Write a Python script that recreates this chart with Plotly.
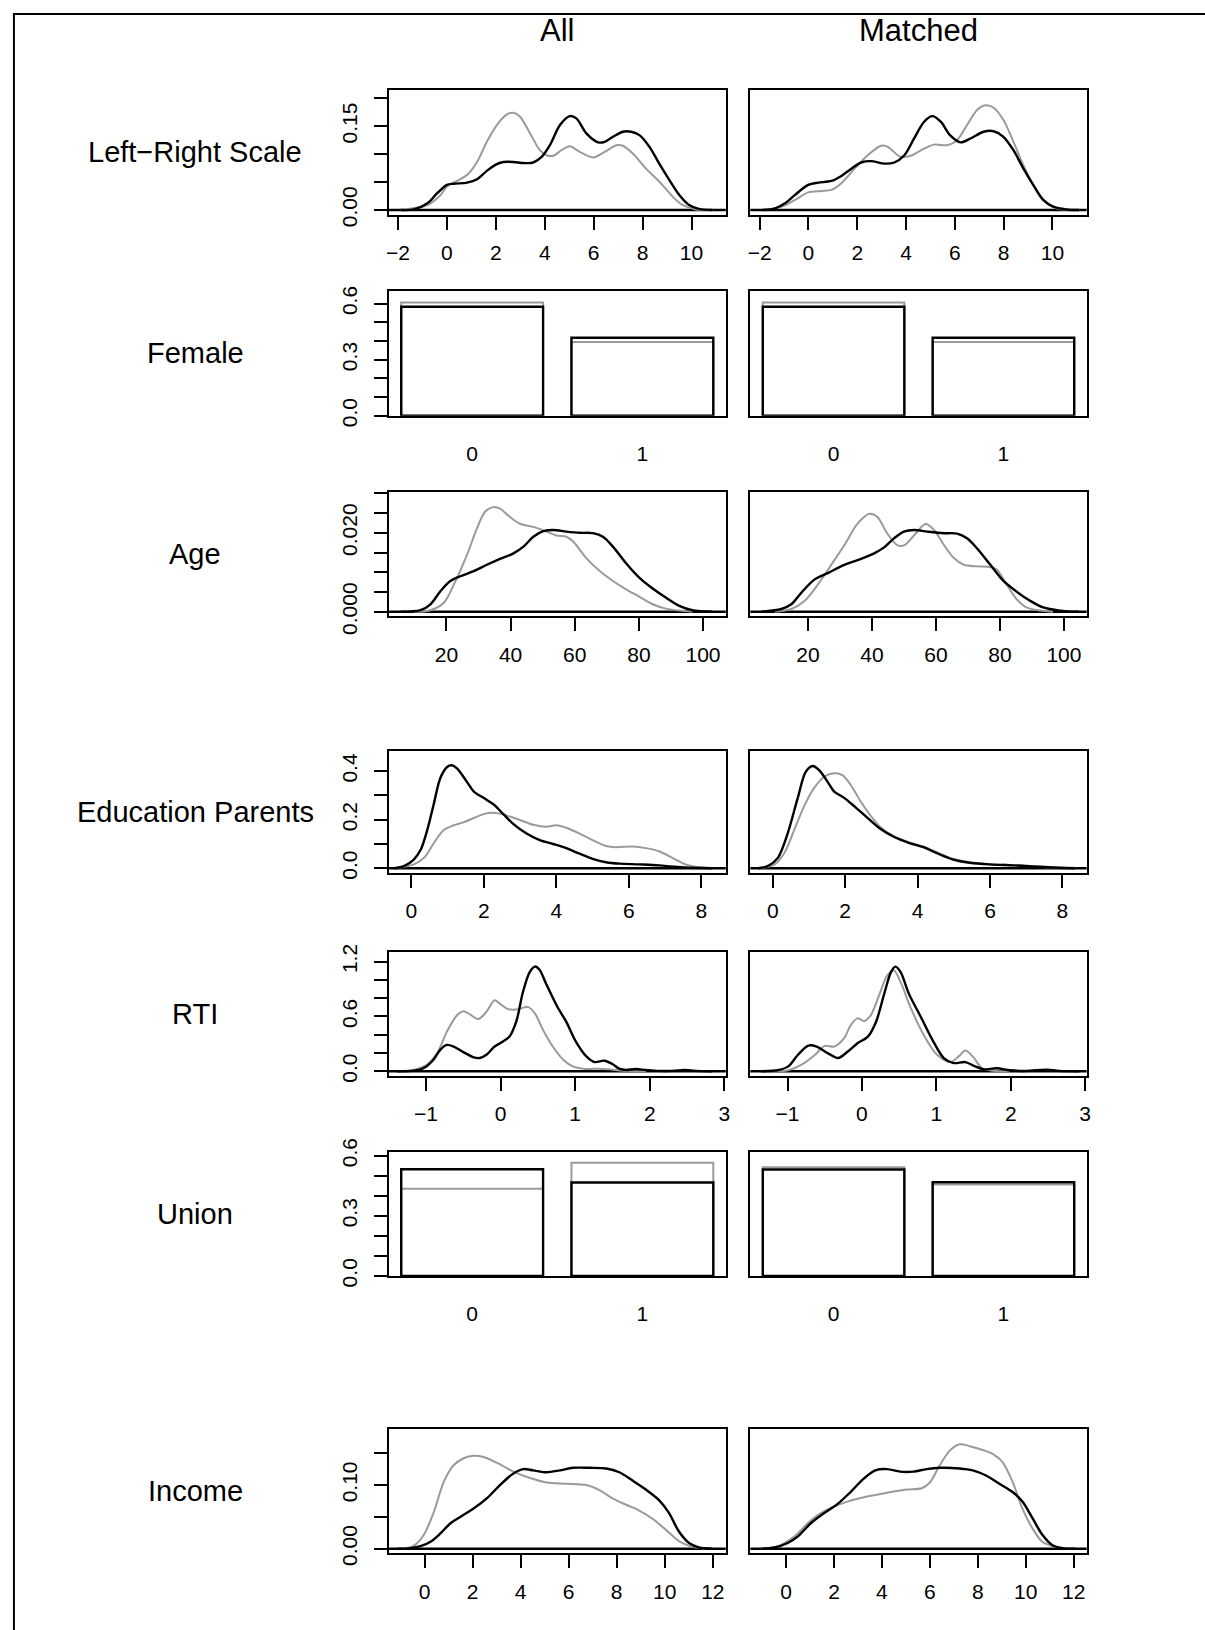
import plotly.graph_objects as go

W, H = 1205, 1630

# ---------------- data: kernel density estimates (x, y) ----------------
# "grp1" = black curves / bars, "grp0" = grey curves / bars

# Left-Right Scale
lr_all_grp1_x = [-1.9, -1.35, -0.8, -0.4, 0.0, 0.28, 0.82, 1.23, 1.63, 2.04, 2.31, 2.72, 3.13, 3.53, 3.87, 4.21, 4.62, 5.02, 5.29, 5.70, 6.18, 6.45, 6.79, 7.19, 7.53, 7.87, 8.28, 8.68, 9.09, 9.5, 9.9, 10.3, 10.85]
lr_all_grp1_y = [0, 0.001, 0.012, 0.03, 0.045, 0.047, 0.049, 0.055, 0.07, 0.082, 0.086, 0.086, 0.084, 0.085, 0.095, 0.116, 0.152, 0.168, 0.164, 0.137, 0.121, 0.122, 0.131, 0.140, 0.140, 0.134, 0.113, 0.083, 0.054, 0.027, 0.009, 0.002, 0]
lr_all_grp0_x = [-1.9, -0.8, -0.26, 0, 0.41, 0.82, 1.23, 1.63, 2.04, 2.45, 2.72, 2.99, 3.40, 3.80, 4.07, 4.35, 4.68, 5.02, 5.43, 5.97, 6.45, 6.92, 7.19, 7.6, 8.14, 8.68, 9.23, 9.63, 10.18, 10.85]
lr_all_grp0_y = [0, 0.009, 0.027, 0.042, 0.052, 0.0625, 0.086, 0.122, 0.152, 0.171, 0.174, 0.167, 0.137, 0.107, 0.098, 0.097, 0.107, 0.114, 0.104, 0.094, 0.104, 0.116, 0.115, 0.101, 0.074, 0.051, 0.024, 0.009, 0.001, 0]
lr_mat_grp1_x = [-1.9, -1.36, -0.96, -0.55, -0.01, 0.4, 0.94, 1.35, 1.76, 2.16, 2.57, 3.11, 3.52, 3.93, 4.33, 4.74, 5.08, 5.42, 5.82, 6.23, 6.64, 7.18, 7.59, 7.99, 8.4, 8.81, 9.21, 9.62, 10.03, 10.57, 11.1]
lr_mat_grp1_y = [0, 0.003, 0.012, 0.027, 0.045, 0.049, 0.052, 0.061, 0.074, 0.085, 0.0875, 0.083, 0.085, 0.098, 0.128, 0.158, 0.168, 0.158, 0.133, 0.121, 0.128, 0.140, 0.141, 0.131, 0.107, 0.074, 0.045, 0.018, 0.006, 0.001, 0]
lr_mat_grp0_x = [-1.9, -1.09, -0.55, -0.01, 0.54, 0.94, 1.35, 1.89, 2.43, 2.98, 3.25, 3.78, 4.19, 4.74, 5.15, 5.69, 6.09, 6.5, 6.91, 7.25, 7.59, 7.99, 8.4, 8.81, 9.21, 9.62, 10.16, 11.1]
lr_mat_grp0_y = [0, 0.006, 0.018, 0.0315, 0.034, 0.036, 0.048, 0.074, 0.098, 0.115, 0.113, 0.095, 0.097, 0.110, 0.117, 0.116, 0.125, 0.152, 0.179, 0.1875, 0.183, 0.161, 0.122, 0.080, 0.045, 0.018, 0.003, 0]

# Female (share per category 0 / 1)
female_cats = ["0", "1"]
female_all_grp1 = [0.583, 0.417]
female_all_grp0 = [0.606, 0.394]
female_mat_grp1 = [0.583, 0.417]
female_mat_grp0 = [0.606, 0.394]

# Age
age_all_grp1_x = [5.7, 11.9, 15.0, 18.1, 21.2, 24.3, 28.5, 32.6, 36.7, 40.9, 44.0, 47.1, 50.2, 53.3, 57.4, 61.6, 65.7, 68.8, 71.9, 76.0, 80.2, 84.3, 88.4, 92.6, 96.7, 102.9]
age_all_grp1_y = [0, 0.0004, 0.0019, 0.0052, 0.0078, 0.009, 0.0103, 0.0119, 0.0134, 0.0148, 0.0165, 0.019, 0.0204, 0.0207, 0.0203, 0.020, 0.0199, 0.019, 0.0165, 0.0123, 0.0086, 0.0059, 0.0036, 0.0015, 0.0004, 0]
age_all_grp0_x = [9.9, 15, 19.2, 22.3, 26.4, 29.5, 32.1, 34.7, 36.7, 39.8, 42.9, 47.1, 51.2, 54.3, 57.4, 59.5, 63.6, 67.8, 71.9, 76.0, 80.2, 84.3, 88.4, 92.6, 96.7]
age_all_grp0_y = [0, 0.0004, 0.0023, 0.0069, 0.0144, 0.0211, 0.0254, 0.0265, 0.0261, 0.024, 0.0223, 0.0215, 0.0203, 0.0193, 0.019, 0.0178, 0.0136, 0.0103, 0.0078, 0.0057, 0.0038, 0.0019, 0.0008, 0.0003, 0]
age_mat_grp1_x = [5.5, 11.7, 14.8, 17.9, 22.1, 26.2, 31.4, 36.6, 40.7, 43.8, 46.9, 50.0, 53.2, 57.3, 62.5, 66.6, 69.7, 72.8, 77.0, 81.1, 85.2, 89.4, 93.5, 98.7, 104.7]
age_mat_grp1_y = [0, 0.0007, 0.0019, 0.0048, 0.0082, 0.0098, 0.0119, 0.0134, 0.0148, 0.0163, 0.0186, 0.0203, 0.0207, 0.0203, 0.0199, 0.0198, 0.0186, 0.0161, 0.0119, 0.0078, 0.0051, 0.0028, 0.0011, 0.0003, 0]
age_mat_grp0_x = [9.6, 14.8, 19.0, 23.1, 27.3, 31.4, 35.5, 39.2, 41.7, 44.8, 47.9, 50.0, 53.2, 56.8, 59.4, 62.5, 65.6, 68.7, 72.8, 77.0, 79.0, 82.1, 85.2, 88.3, 92.5, 96.6]
age_mat_grp0_y = [0, 0.0007, 0.0028, 0.0069, 0.0119, 0.0169, 0.0223, 0.0248, 0.024, 0.0198, 0.0169, 0.0168, 0.0194, 0.0222, 0.0207, 0.0169, 0.0136, 0.0119, 0.0115, 0.0113, 0.0107, 0.0069, 0.0032, 0.0011, 0.0003, 0]

# Education Parents
edu_all_grp1_x = [-0.47, -0.2, 0.07, 0.26, 0.44, 0.62, 0.8, 0.99, 1.12, 1.26, 1.53, 1.72, 1.99, 2.26, 2.54, 2.81, 3.18, 3.54, 3.91, 4.27, 4.64, 5.0, 5.37, 5.74, 6.28, 6.83, 7.2, 7.56, 8.29]
edu_all_grp1_y = [0, 0.009, 0.036, 0.076, 0.157, 0.264, 0.371, 0.417, 0.424, 0.411, 0.357, 0.317, 0.29, 0.264, 0.223, 0.183, 0.143, 0.116, 0.1, 0.083, 0.06, 0.039, 0.025, 0.019, 0.016, 0.012, 0.007, 0.003, 0]
edu_all_grp0_x = [-0.47, 0.07, 0.35, 0.62, 0.89, 1.17, 1.44, 1.72, 1.99, 2.17, 2.45, 2.72, 3.0, 3.36, 3.73, 4.0, 4.27, 4.64, 5.0, 5.37, 5.64, 6.1, 6.47, 6.83, 7.2, 7.56, 7.93, 8.29]
edu_all_grp0_y = [0, 0.016, 0.043, 0.103, 0.157, 0.177, 0.189, 0.207, 0.223, 0.229, 0.225, 0.213, 0.199, 0.179, 0.171, 0.177, 0.167, 0.143, 0.116, 0.092, 0.087, 0.09, 0.083, 0.07, 0.043, 0.016, 0.004, 0]
edu_mat_grp1_x = [-0.41, -0.14, 0.14, 0.41, 0.69, 0.91, 1.1, 1.28, 1.51, 1.69, 1.97, 2.24, 2.6, 2.97, 3.34, 3.79, 4.16, 4.52, 4.98, 5.44, 5.99, 6.63, 7.18, 7.63, 8.36]
edu_mat_grp1_y = [0, 0.009, 0.043, 0.143, 0.29, 0.397, 0.421, 0.404, 0.357, 0.317, 0.29, 0.257, 0.21, 0.163, 0.13, 0.103, 0.087, 0.063, 0.036, 0.023, 0.016, 0.012, 0.008, 0.004, 0]
edu_mat_grp0_x = [-0.32, 0.05, 0.32, 0.59, 0.87, 1.14, 1.42, 1.69, 1.92, 2.15, 2.42, 2.7, 2.97, 3.34, 3.79, 4.16, 4.52, 4.98, 5.44, 5.99, 6.63, 7.18, 7.63, 8.36]
edu_mat_grp0_y = [0, 0.016, 0.063, 0.157, 0.257, 0.33, 0.377, 0.391, 0.384, 0.344, 0.277, 0.217, 0.17, 0.132, 0.106, 0.09, 0.067, 0.039, 0.025, 0.017, 0.013, 0.009, 0.004, 0]

# RTI
rti_all_grp1_x = [-1.39, -1.16, -1.03, -0.9, -0.81, -0.72, -0.63, -0.5, -0.36, -0.28, -0.19, -0.08, 0.01, 0.12, 0.21, 0.30, 0.39, 0.46, 0.52, 0.61, 0.75, 0.88, 1.01, 1.15, 1.26, 1.39, 1.5, 1.59, 1.68, 1.81, 1.95, 2.12, 2.3, 2.48, 2.61, 2.84]
rti_all_grp1_y = [0, 0.007, 0.036, 0.127, 0.235, 0.289, 0.271, 0.21, 0.152, 0.145, 0.181, 0.271, 0.315, 0.38, 0.543, 0.868, 1.085, 1.146, 1.114, 0.958, 0.723, 0.543, 0.325, 0.163, 0.101, 0.116, 0.08, 0.029, 0.014, 0.025, 0.014, 0.004, 0.004, 0.014, 0.004, 0]
rti_all_grp0_x = [-1.39, -1.16, -0.99, -0.85, -0.72, -0.59, -0.5, -0.41, -0.3, -0.19, -0.08, -0.01, 0.1, 0.21, 0.37, 0.46, 0.57, 0.7, 0.84, 0.97, 1.15, 1.32, 1.5, 1.68, 1.95]
rti_all_grp0_y = [0, 0.018, 0.072, 0.199, 0.434, 0.608, 0.658, 0.622, 0.571, 0.651, 0.778, 0.741, 0.68, 0.676, 0.702, 0.633, 0.452, 0.271, 0.127, 0.054, 0.025, 0.029, 0.018, 0.004, 0]
rti_mat_grp1_x = [-1.35, -1.12, -0.99, -0.86, -0.72, -0.61, -0.46, -0.32, -0.19, -0.06, 0.08, 0.19, 0.3, 0.39, 0.45, 0.52, 0.63, 0.79, 0.96, 1.1, 1.23, 1.39, 1.52, 1.63, 1.81, 1.99, 2.21, 2.48, 2.65, 2.92]
rti_mat_grp1_y = [0, 0.014, 0.054, 0.181, 0.282, 0.271, 0.199, 0.145, 0.217, 0.307, 0.38, 0.543, 0.85, 1.085, 1.146, 1.085, 0.85, 0.597, 0.325, 0.145, 0.09, 0.101, 0.054, 0.022, 0.033, 0.011, 0.004, 0.018, 0.004, 0]
rti_mat_grp0_x = [-1.2, -0.99, -0.81, -0.63, -0.5, -0.37, -0.24, -0.15, -0.06, 0.03, 0.12, 0.23, 0.34, 0.43, 0.52, 0.65, 0.83, 1.01, 1.19, 1.3, 1.39, 1.5, 1.61, 1.76, 1.98]
rti_mat_grp0_y = [0, 0.011, 0.072, 0.181, 0.278, 0.271, 0.362, 0.506, 0.579, 0.55, 0.615, 0.832, 1.049, 1.103, 0.976, 0.705, 0.398, 0.181, 0.101, 0.163, 0.228, 0.152, 0.036, 0.007, 0]

# Union (share per category 0 / 1)
union_cats = ["0", "1"]
union_all_grp1 = [0.533, 0.467]
union_all_grp0 = [0.435, 0.565]
union_mat_grp1 = [0.532, 0.468]
union_mat_grp0 = [0.543, 0.457]

# Income
inc_all_grp1_x = [-1.13, -0.58, -0.17, 0.25, 0.66, 1.08, 1.49, 2.04, 2.59, 3.14, 3.7, 4.11, 4.52, 5.08, 5.63, 6.18, 6.87, 7.56, 8.11, 8.66, 9.21, 9.77, 10.18, 10.59, 11.01, 11.42, 11.97]
inc_all_grp1_y = [0, 0.001, 0.004, 0.011, 0.024, 0.040, 0.050, 0.063, 0.079, 0.1, 0.118, 0.125, 0.123, 0.12, 0.123, 0.127, 0.127, 0.126, 0.12, 0.107, 0.093, 0.076, 0.056, 0.027, 0.009, 0.002, 0]
inc_all_grp0_x = [-0.99, -0.44, -0.03, 0.39, 0.8, 1.21, 1.63, 2.04, 2.46, 3.01, 3.7, 4.39, 5.08, 5.9, 6.73, 7.28, 7.83, 8.39, 8.94, 9.49, 10.04, 10.59, 11.14, 11.69]
inc_all_grp0_y = [0, 0.005, 0.022, 0.058, 0.105, 0.131, 0.142, 0.146, 0.144, 0.135, 0.121, 0.111, 0.104, 0.102, 0.1, 0.092, 0.079, 0.069, 0.06, 0.047, 0.03, 0.012, 0.003, 0]
inc_mat_grp1_x = [-1.03, -0.48, 0.07, 0.48, 1.03, 1.59, 2.14, 2.69, 3.24, 3.72, 4.21, 4.76, 5.31, 5.86, 6.41, 7.24, 7.79, 8.34, 8.9, 9.45, 9.86, 10.28, 10.69, 11.1, 11.52, 12.07]
inc_mat_grp1_y = [0, 0.002, 0.009, 0.019, 0.04, 0.056, 0.07, 0.089, 0.11, 0.123, 0.125, 0.121, 0.121, 0.125, 0.127, 0.126, 0.123, 0.115, 0.102, 0.089, 0.074, 0.048, 0.022, 0.006, 0.001, 0]
inc_mat_grp0_x = [-1.03, -0.34, 0.34, 0.9, 1.45, 2.0, 2.55, 3.38, 4.21, 5.03, 5.66, 6.0, 6.41, 6.83, 7.24, 7.66, 8.21, 8.62, 9.03, 9.45, 9.86, 10.28, 10.69, 11.24, 11.93]
inc_mat_grp0_y = [0, 0.004, 0.019, 0.04, 0.056, 0.066, 0.074, 0.082, 0.088, 0.093, 0.095, 0.104, 0.131, 0.154, 0.164, 0.161, 0.155, 0.149, 0.136, 0.105, 0.063, 0.032, 0.011, 0.003, 0]

# ---------------- axis tick specifications ----------------
column_titles = ["All", "Matched"]
row_labels = ["Left\u2212Right Scale", "Female", "Age", "Education Parents", "RTI", "Union", "Income"]

lr_xticks = [-2, 0, 2, 4, 6, 8, 10]
lr_yticks = [0, 0.05, 0.10, 0.15, 0.20]
lr_ylabels = ["0.00", "", "", "0.15", ""]
bar_yticks = [0, 0.1, 0.2, 0.3, 0.4, 0.5, 0.6]
bar_ylabels = ["0.0", "", "", "0.3", "", "", "0.6"]
age_xticks = [20, 40, 60, 80, 100]
age_yticks = [0, 0.005, 0.010, 0.015, 0.020, 0.025, 0.030]
age_ylabels = ["0.000", "", "", "", "0.020", "", ""]
edu_xticks = [0, 2, 4, 6, 8]
edu_yticks = [0, 0.1, 0.2, 0.3, 0.4]
edu_ylabels = ["0.0", "", "0.2", "", "0.4"]
rti_xticks = [-1, 0, 1, 2, 3]
rti_yticks = [0, 0.2, 0.4, 0.6, 0.8, 1.0, 1.2]
rti_ylabels = ["0.0", "", "", "0.6", "", "", "1.2"]
inc_xticks = [0, 2, 4, 6, 8, 10, 12]
inc_yticks = [0, 0.05, 0.10, 0.15]
inc_ylabels = ["0.00", "", "0.10", ""]


def tick_text(vals):
    return [str(v).replace("-", "\u2212") for v in vals]


# ---------------- page geometry (pixels) ----------------
COLS = [(388, 727), (751.7, 1090)]
ROWS = [(78.8, 205.5), (283.7, 410.5), (488.4, 615.1), (751.8, 876.5),
        (956.7, 1083.5), (1160.6, 1287.4), (1443.4, 1570.2)]
HEADER_Y = 17.6
FRAME_TOP = 1.0

FONT = "Liberation Sans, Arial, Helvetica, sans-serif"
GREY = "#9a9a9a"
BLACK = "#000000"

panels = [
    dict(kind="dens", xr=[-2.38, 11.40], yr=[-0.0082, 0.2142], xt=lr_xticks, yt=lr_yticks, yl=lr_ylabels,
         data=[(lr_all_grp0_x, lr_all_grp0_y, lr_all_grp1_x, lr_all_grp1_y),
               (lr_mat_grp0_x, lr_mat_grp0_y, lr_mat_grp1_x, lr_mat_grp1_y)]),
    dict(kind="bar", xr=[0.112, 2.488], yr=[0, 0.666], cats=female_cats, yt=bar_yticks, yl=bar_ylabels,
         data=[(female_all_grp0, female_all_grp1), (female_mat_grp0, female_mat_grp1)]),
    dict(kind="dens", xr=[2.0, 107.1], yr=[-0.00117, 0.0303], xt=age_xticks, yt=age_yticks, yl=age_ylabels,
         data=[(age_all_grp0_x, age_all_grp0_y, age_all_grp1_x, age_all_grp1_y),
               (age_mat_grp0_x, age_mat_grp0_y, age_mat_grp1_x, age_mat_grp1_y)]),
    dict(kind="dens", xr=[-0.62, 8.67], yr=[-0.0187, 0.485], xt=edu_xticks, yt=edu_yticks, yl=edu_ylabels,
         data=[(edu_all_grp0_x, edu_all_grp0_y, edu_all_grp1_x, edu_all_grp1_y),
               (edu_mat_grp0_x, edu_mat_grp0_y, edu_mat_grp1_x, edu_mat_grp1_y)]),
    dict(kind="dens", xr=[-1.50, 3.02], yr=[-0.0504, 1.311], xt=rti_xticks, yt=rti_yticks, yl=rti_ylabels,
         data=[(rti_all_grp0_x, rti_all_grp0_y, rti_all_grp1_x, rti_all_grp1_y),
               (rti_mat_grp0_x, rti_mat_grp0_y, rti_mat_grp1_x, rti_mat_grp1_y)]),
    dict(kind="bar", xr=[0.112, 2.488], yr=[0, 0.6215], cats=union_cats, yt=bar_yticks, yl=bar_ylabels,
         data=[(union_all_grp0, union_all_grp1), (union_mat_grp0, union_mat_grp1)]),
    dict(kind="dens", xr=[-1.49, 12.54], yr=[-0.0072, 0.188], xt=inc_xticks, yt=inc_yticks, yl=inc_ylabels,
         data=[(inc_all_grp0_x, inc_all_grp0_y, inc_all_grp1_x, inc_all_grp1_y),
               (inc_mat_grp0_x, inc_mat_grp0_y, inc_mat_grp1_x, inc_mat_grp1_y)]),
]

# barplot geometry: bars of width 1 separated by space 0.2
BAR_CENTRES = [0.7, 1.9]

fig = go.Figure()
layout = dict(
    width=W, height=H, margin=dict(l=0, r=0, t=0, b=0),
    paper_bgcolor="white", plot_bgcolor="white",
    showlegend=False, barmode="overlay",
    font=dict(family=FONT, color="black", size=21),
)
shapes = []
annotations = []

for r, spec in enumerate(panels):
    top, bot = ROWS[r]
    for c in range(2):
        left, right = COLS[c]
        idx = 2 * r + c + 1
        suffix = "" if idx == 1 else str(idx)
        xa, ya = "x" + suffix, "y" + suffix
        xkey, ykey = "xaxis" + suffix, "yaxis" + suffix

        if spec["kind"] == "dens":
            gx, gy, bx, by = spec["data"][c]
            fig.add_trace(go.Scatter(x=gx, y=gy, mode="lines", xaxis=xa, yaxis=ya,
                                     line=dict(color=GREY, width=2.0, shape="spline", smoothing=0.9),
                                     hoverinfo="skip"))
            fig.add_trace(go.Scatter(x=bx, y=by, mode="lines", xaxis=xa, yaxis=ya,
                                     line=dict(color=BLACK, width=2.4, shape="spline", smoothing=0.9),
                                     hoverinfo="skip"))
            # zero line across the panel
            shapes.append(dict(type="line", xref=f"{xa} domain", yref=ya, x0=0, x1=1, y0=0, y1=0,
                               line=dict(color=BLACK, width=2.4), layer="below"))
            xaxis = dict(tickmode="array", tickvals=spec["xt"], ticktext=tick_text(spec["xt"]),
                         ticks="outside", ticklen=13, tickwidth=2, tickcolor=BLACK,
                         ticklabelstandoff=5)
        else:
            g, b = spec["data"][c]
            fig.add_trace(go.Bar(x=BAR_CENTRES, y=g, width=[1, 1], xaxis=xa, yaxis=ya,
                                 marker=dict(color="rgba(0,0,0,0)", line=dict(color=GREY, width=2.0)),
                                 hoverinfo="skip"))
            fig.add_trace(go.Bar(x=BAR_CENTRES, y=b, width=[1, 1], xaxis=xa, yaxis=ya,
                                 marker=dict(color="rgba(0,0,0,0)", line=dict(color=BLACK, width=2.4)),
                                 hoverinfo="skip"))
            xaxis = dict(tickmode="array", tickvals=BAR_CENTRES, ticktext=spec["cats"],
                         ticks="", ticklabelstandoff=18)

        xaxis.update(domain=[left / W, right / W], range=spec["xr"], anchor=ya,
                     showline=True, linewidth=2, linecolor=BLACK, mirror=True,
                     showgrid=False, zeroline=False, fixedrange=True,
                     tickfont=dict(family=FONT, size=21, color=BLACK))
        yaxis = dict(domain=[1 - bot / H, 1 - top / H], range=spec["yr"], anchor=xa,
                     showline=True, linewidth=2, linecolor=BLACK, mirror=True,
                     showgrid=False, zeroline=False, fixedrange=True)
        if c == 0:
            yaxis.update(tickmode="array", tickvals=spec["yt"], ticktext=spec["yl"],
                         ticks="outside", ticklen=13, tickwidth=2, tickcolor=BLACK,
                         tickangle=-90, ticklabelstandoff=8,
                         tickfont=dict(family=FONT, size=21, color=BLACK))
        else:
            yaxis.update(showticklabels=False, ticks="")
        layout[xkey] = xaxis
        layout[ykey] = yaxis

    # row label, centred on the panel row
    annotations.append(dict(text=row_labels[r], xref="paper", yref="paper",
                            x=193.5 / W, y=1 - (top + bot) / 2 / H, showarrow=False,
                            xanchor="center", yanchor="middle",
                            font=dict(family=FONT, size=29, color=BLACK)))

# column headings
for c, title in enumerate(column_titles):
    left, right = COLS[c]
    annotations.append(dict(text=title, xref="paper", yref="paper",
                            x=(left + right) / 2 / W, y=1 - HEADER_Y / H, showarrow=False,
                            xanchor="center", yanchor="middle",
                            font=dict(family=FONT, size=31, color=BLACK)))

# outer frame around the whole figure
shapes.append(dict(type="rect", xref="paper", yref="paper",
                   x0=11 / W, x1=1.03, y0=-0.03, y1=1 - FRAME_TOP / H,
                   line=dict(color=BLACK, width=2), fillcolor="rgba(0,0,0,0)"))

layout["shapes"] = shapes
layout["annotations"] = annotations
fig.update_layout(**layout)
fig.write_html("out.html")
